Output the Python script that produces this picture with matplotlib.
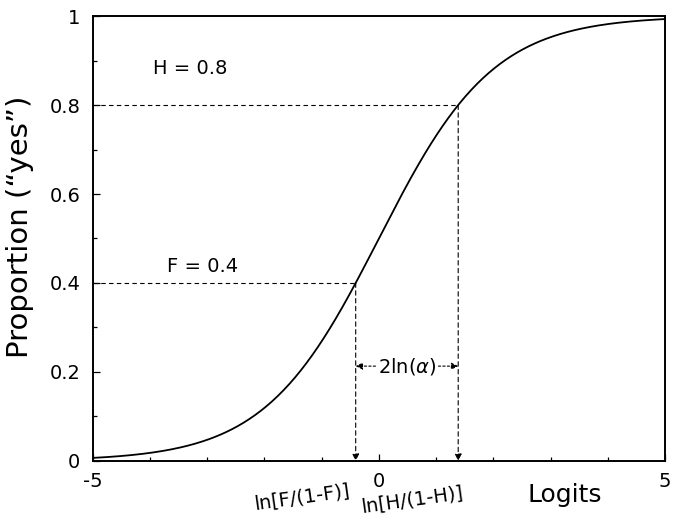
import numpy as np
import matplotlib
matplotlib.use("Agg")
import matplotlib.pyplot as plt
from matplotlib.ticker import MultipleLocator

plt.rcParams['font.family'] = ['DejaVu Sans']

# Hit and false-alarm proportions
H = 0.8
F = 0.4
x_range = [-5, 5]
x_ticks = [-5, 0, 5]
x_ticklabels = ["-5", "0", "5"]
y_ticks = [0, 0.2, 0.4, 0.6, 0.8, 1]
y_ticklabels = ["0", "0.2", "0.4", "0.6", "0.8", "1"]

logit_H = np.log(H / (1 - H))
logit_F = np.log(F / (1 - F))

fig = plt.figure(figsize=(6.73, 5.19), dpi=100)
ax = fig.add_axes([0.138, 0.112, 0.850, 0.857])

x = np.linspace(x_range[0], x_range[1], 400)
ax.plot(x, 1 / (1 + np.exp(-x)), color="black", lw=1.3)

ax.set_xlim(*x_range)
ax.set_ylim(0, 1)

dash = dict(color="black", lw=0.8, ls=(0, (4, 3)))
# horizontal guide lines
ax.plot([x_range[0], logit_H], [H, H], **dash)
ax.plot([x_range[0], logit_F], [F, F], **dash)
# vertical guide lines with arrowheads at the axis
for xv, yv in [(logit_H, H), (logit_F, F)]:
    ax.annotate("", xy=(xv, 0), xytext=(xv, yv),
                arrowprops=dict(arrowstyle="-|>", color="black", lw=0.8,
                                ls=(0, (4, 3)), mutation_scale=10,
                                shrinkA=0, shrinkB=0))

ax.text(-3.3, 0.883, "H = 0.8", fontsize=14, ha="center", va="center")
ax.text(-3.08, 0.436, "F = 0.4", fontsize=14, ha="center", va="center")

# width of the interval between the two logits
mid = (logit_H + logit_F) / 2
ya = 0.213
ax.text(mid, ya, r"2ln($\alpha$)", fontsize=14, ha="center", va="center")
ax.annotate("", xy=(logit_F, ya), xytext=(mid - 0.55, ya),
            arrowprops=dict(arrowstyle="-|>", color="black", lw=0.8,
                            ls=(0, (2, 2)), mutation_scale=10,
                            shrinkA=0, shrinkB=0))
ax.annotate("", xy=(logit_H, ya), xytext=(mid + 0.55, ya),
            arrowprops=dict(arrowstyle="-|>", color="black", lw=0.8,
                            ls=(0, (2, 2)), mutation_scale=10,
                            shrinkA=0, shrinkB=0))

ax.set_xticks(x_ticks)
ax.set_xticklabels(x_ticklabels)
ax.xaxis.set_minor_locator(MultipleLocator(1))
ax.set_yticks(y_ticks)
ax.set_yticklabels(y_ticklabels)
ax.yaxis.set_minor_locator(MultipleLocator(0.1))
ax.tick_params(which="both", direction="in", labelsize=14, width=0.9)
ax.tick_params(which="major", length=5)
ax.tick_params(which="minor", length=3)
ax.tick_params(axis="x", which="major", pad=8)
ax.tick_params(axis="y", which="major", pad=9)
for s in ax.spines.values():
    s.set_linewidth(1.4)

# logit labels under the axis
ax.text(-1.35, -0.081, "ln[F/(1-F)]", fontsize=14, rotation=8,
        ha="center", va="center", clip_on=False)
ax.text(0.58, -0.088, "ln[H/(1-H)]", fontsize=14, rotation=8,
        ha="center", va="center", clip_on=False)

ax.text(3.25, -0.077, "Logits", fontsize=18, ha="center", va="center",
        clip_on=False)
ax.set_ylabel("Proportion (\u201cyes\u201d)", fontsize=21, labelpad=8)
ax.yaxis.set_label_coords(-0.138 + 20 / 572, 0.526)

fig.savefig("out.png", dpi=100)
